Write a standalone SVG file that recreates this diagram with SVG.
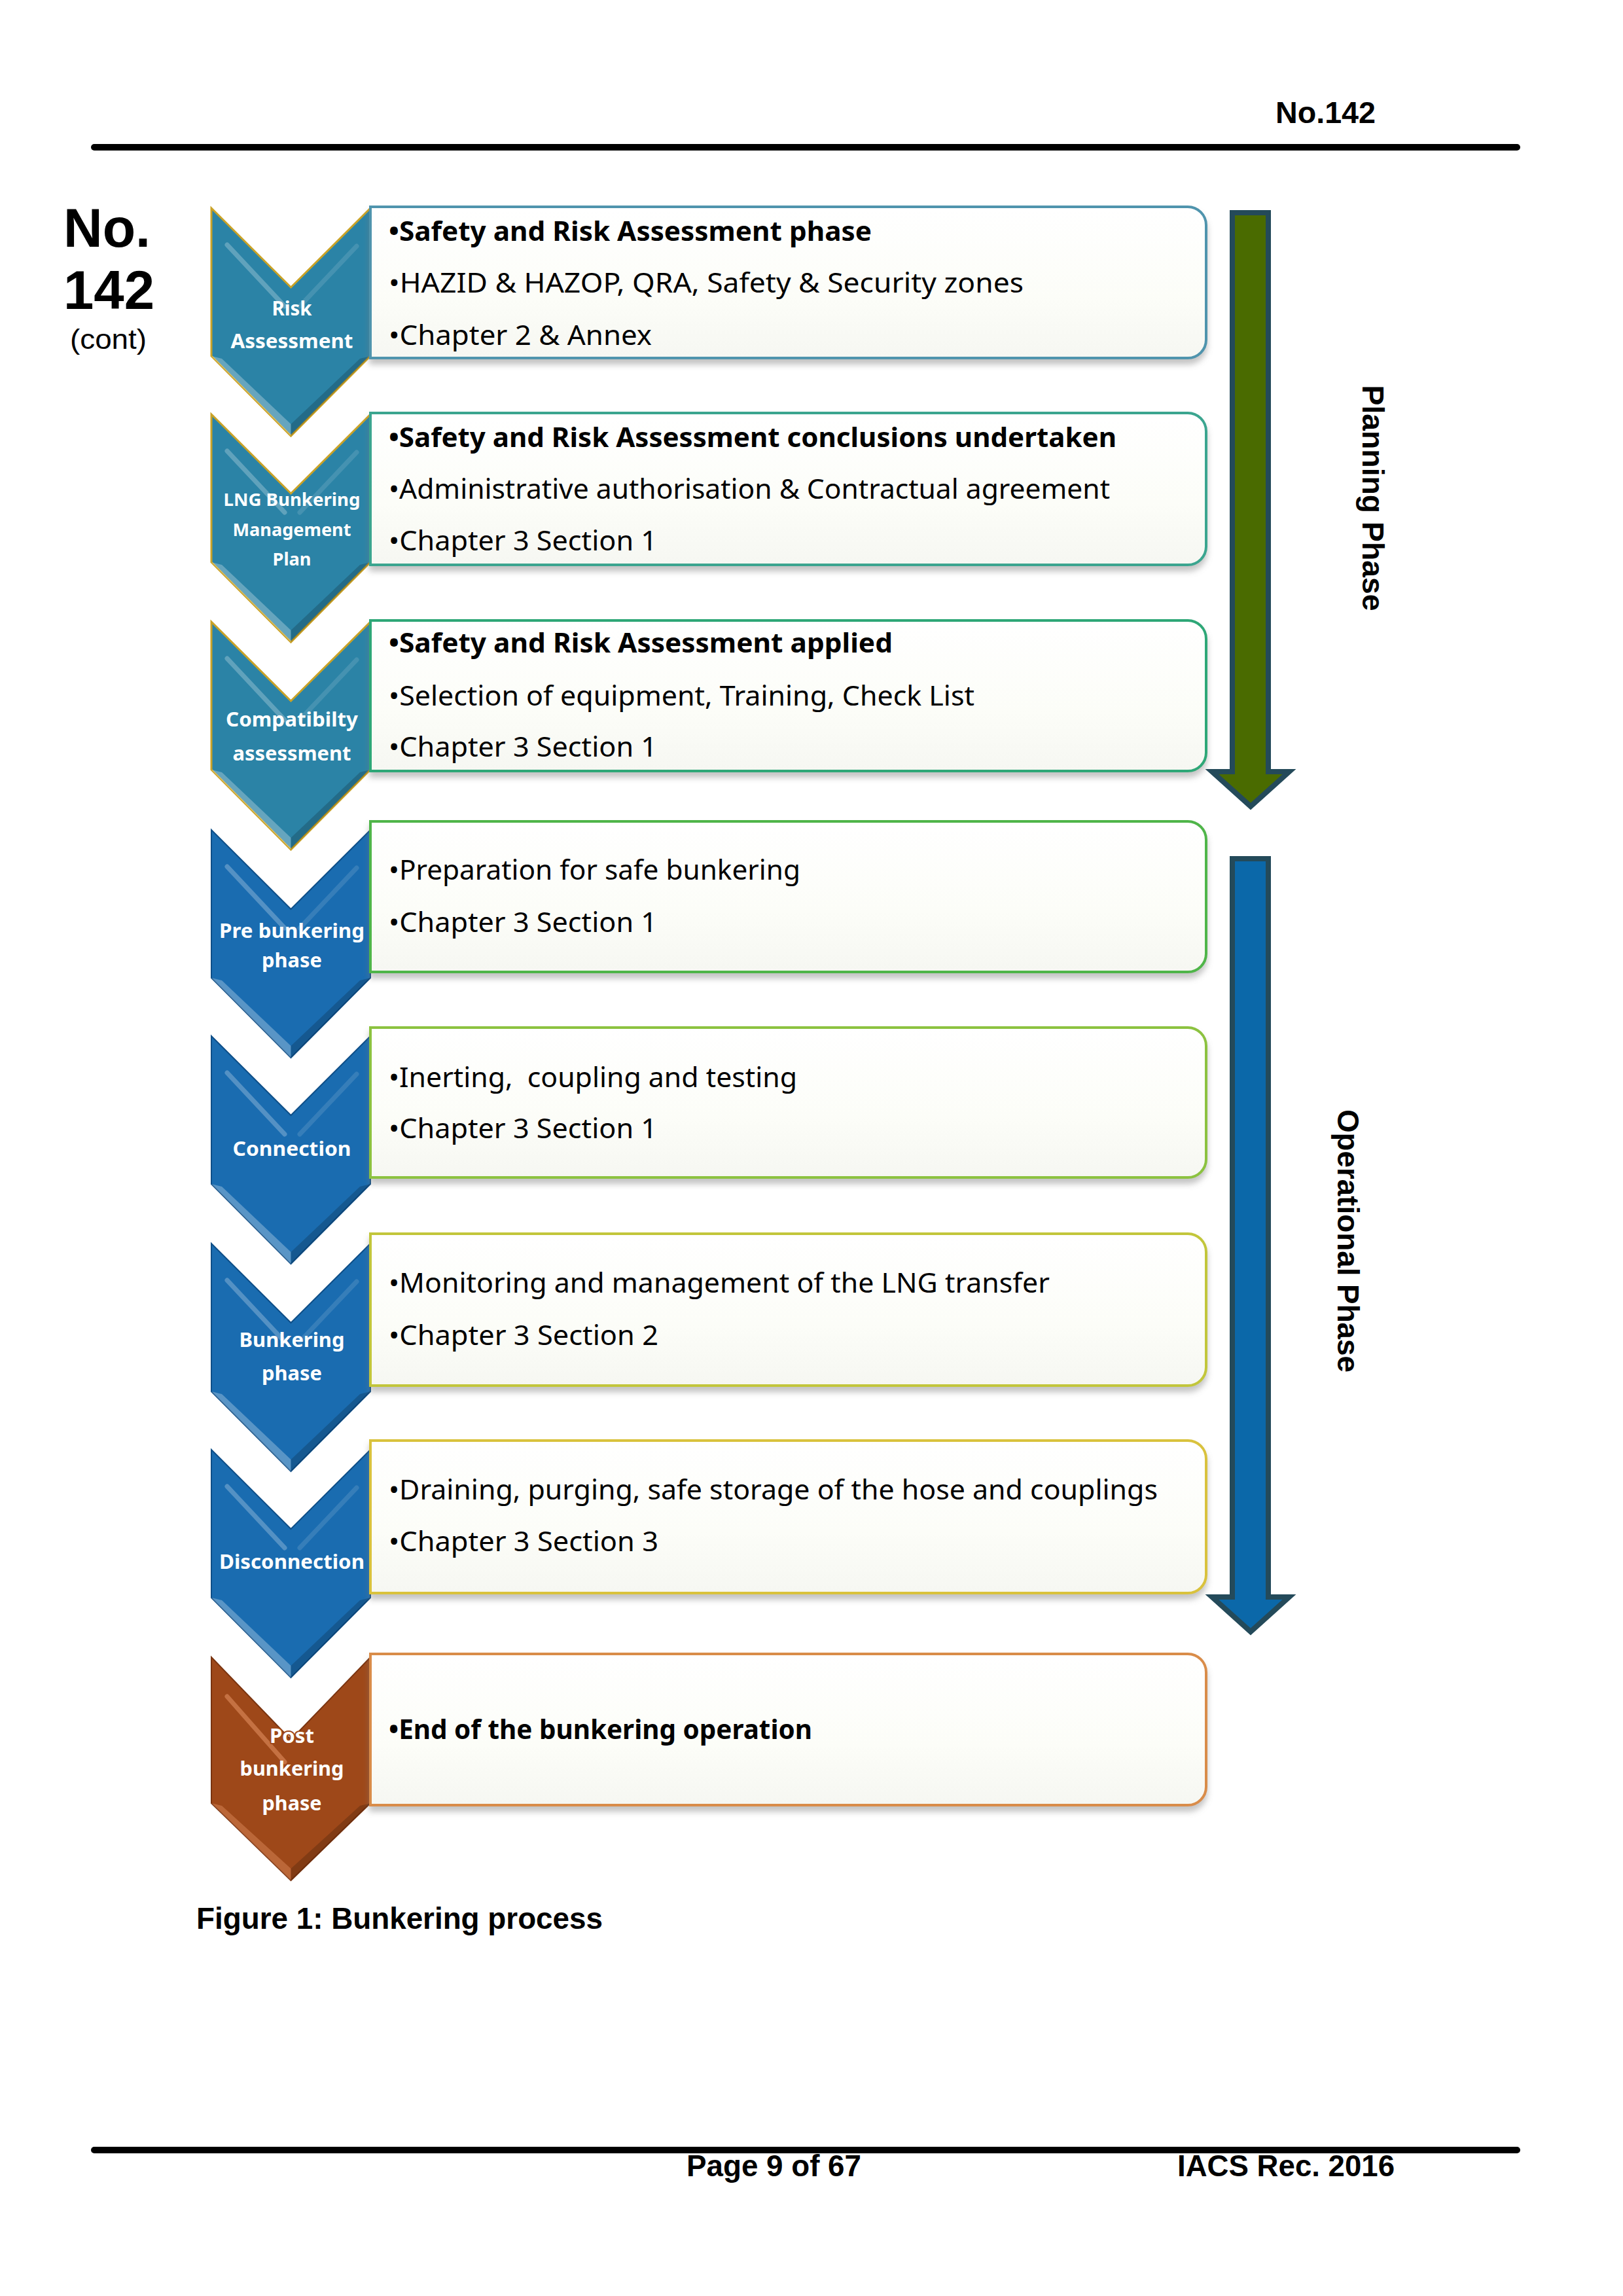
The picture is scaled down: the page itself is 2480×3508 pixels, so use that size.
<svg xmlns="http://www.w3.org/2000/svg" xmlns:xlink="http://www.w3.org/1999/xlink" width="2480" height="3508" viewBox="0 0 2480 3508">
<style>
.hdr{font-family:"Liberation Sans",Arial,sans-serif;font-weight:bold;fill:#000}
.reg{font-family:"Liberation Sans",Arial,sans-serif;fill:#000}
.bt{font-family:"Noto Sans","Open Sans",sans-serif;font-size:42px;fill:#000;white-space:pre}
.bb{font-weight:bold}
.cl{font-family:"Noto Sans","Open Sans",sans-serif;font-weight:bold;font-size:30px;fill:#fff;text-anchor:middle}
.cs{font-size:26px}
.teal{fill:#2b83a6;stroke:#c9a227;stroke-width:3}
.blue{fill:#1a6cb0;stroke:#0f4f88;stroke-width:2}
.brown{fill:#9e4819;stroke:#7a3410;stroke-width:2}
.box{fill:url(#boxg);stroke-width:4;filter:url(#sh)}
.hl{fill:#ffffff;opacity:0.28}
.dk{fill:#000000;opacity:0.18}
.st{stroke:#ffffff;stroke-width:7;opacity:0.25;stroke-linecap:round}
.arr{stroke:#244a5a;stroke-width:8;stroke-linejoin:miter}
.halo{stroke:#9e4819;stroke-width:4;paint-order:stroke;stroke-linejoin:round}
</style>
<defs>
<linearGradient id="boxg" x1="0" y1="0" x2="0" y2="1">
<stop offset="0" stop-color="#ffffff"/>
<stop offset="0.6" stop-color="#fcfdf8"/>
<stop offset="1" stop-color="#f6f7f2"/>
</linearGradient>
<filter id="sh" x="-5%" y="-10%" width="110%" height="130%">
<feDropShadow dx="0" dy="8" stdDeviation="5" flood-color="#7a7a7a" flood-opacity="0.45"/>
</filter>
<path id="chev" d="M0,0 L121.5,121 L243,0 L243,226 L121.5,348 L0,226 Z"/>
<path id="chev8" d="M0,0 L121.5,126 L243,0 L243,223 L121.5,341 L0,223 Z"/>
<g id="bev">
<path class="hl" d="M0,226 L121.5,348 L121.5,330 L16,230 Z"/>
<path class="dk" d="M243,226 L121.5,348 L121.5,330 L227,230 Z"/>
<line class="st" x1="24" y1="56" x2="112" y2="150"/>
<line class="st" x1="222" y1="58" x2="135" y2="150" style="opacity:0.12"/>
</g>
</defs>

<!-- header -->
<g id="header">
<text class="hdr" x="1949" y="188" font-size="46" textLength="153" lengthAdjust="spacingAndGlyphs">No.142</text>
<rect x="139" y="220" width="2184" height="10" rx="5" fill="#000"/>
</g>
<g id="doc-number">
<text class="hdr" x="97" y="377" font-size="84" textLength="133" lengthAdjust="spacingAndGlyphs">No.</text>
<text class="hdr" x="97" y="472" font-size="84" textLength="139" lengthAdjust="spacingAndGlyphs">142</text>
<text class="reg" x="107" y="533" font-size="43" textLength="117" lengthAdjust="spacingAndGlyphs">(cont)</text>
</g>

<!-- step 1 -->
<g id="node-1">
<use xlink:href="#chev" x="323" y="318" class="teal"/>
<use xlink:href="#bev" x="323" y="318"/>
<path class="box" stroke="#4f94ad" d="M566,316 H1815 A28,28 0 0 1 1843,344 V519 A28,28 0 0 1 1815,547 H566 Z"/>
<text class="cl" x="446" y="482" textLength="61" lengthAdjust="spacingAndGlyphs">Risk</text>
<text class="cl" x="446" y="532" textLength="187" lengthAdjust="spacingAndGlyphs">Assessment</text>
<text class="bt bb" x="594" y="368" textLength="738" lengthAdjust="spacingAndGlyphs">•Safety and Risk Assessment phase</text>
<text class="bt" x="594" y="447" textLength="970" lengthAdjust="spacingAndGlyphs">•HAZID &amp; HAZOP, QRA, Safety &amp; Security zones</text>
<text class="bt" x="594" y="527" textLength="402" lengthAdjust="spacingAndGlyphs">•Chapter 2 &amp; Annex</text>
</g>

<!-- step 2 -->
<g id="node-2">
<use xlink:href="#chev" x="323" y="633" class="teal"/>
<use xlink:href="#bev" x="323" y="633"/>
<path class="box" stroke="#3aa58f" d="M566,631 H1815 A28,28 0 0 1 1843,659 V835 A28,28 0 0 1 1815,863 H566 Z"/>
<text class="cl cs" x="446" y="773" textLength="209" lengthAdjust="spacingAndGlyphs">LNG Bunkering</text>
<text class="cl cs" x="446" y="819" textLength="181" lengthAdjust="spacingAndGlyphs">Management</text>
<text class="cl cs" x="446" y="864" textLength="59" lengthAdjust="spacingAndGlyphs">Plan</text>
<text class="bt bb" x="594" y="683" textLength="1112" lengthAdjust="spacingAndGlyphs">•Safety and Risk Assessment conclusions undertaken</text>
<text class="bt" x="594" y="762" textLength="1102" lengthAdjust="spacingAndGlyphs">•Administrative authorisation &amp; Contractual agreement</text>
<text class="bt" x="594" y="841" textLength="410" lengthAdjust="spacingAndGlyphs">•Chapter 3 Section 1</text>
</g>

<!-- step 3 -->
<g id="node-3">
<use xlink:href="#chev" x="323" y="950" class="teal"/>
<use xlink:href="#bev" x="323" y="950"/>
<path class="box" stroke="#2fa777" d="M566,948 H1815 A28,28 0 0 1 1843,976 V1150 A28,28 0 0 1 1815,1178 H566 Z"/>
<text class="cl" x="446" y="1110" textLength="202" lengthAdjust="spacingAndGlyphs">Compatibilty</text>
<text class="cl" x="446" y="1162" textLength="181" lengthAdjust="spacingAndGlyphs">assessment</text>
<text class="bt bb" x="594" y="997" textLength="770" lengthAdjust="spacingAndGlyphs">•Safety and Risk Assessment applied</text>
<text class="bt" x="594" y="1078" textLength="895" lengthAdjust="spacingAndGlyphs">•Selection of equipment, Training, Check List</text>
<text class="bt" x="594" y="1156" textLength="410" lengthAdjust="spacingAndGlyphs">•Chapter 3 Section 1</text>
</g>

<!-- step 4 -->
<g id="node-4">
<use xlink:href="#chev" x="323" y="1268" class="blue"/>
<use xlink:href="#bev" x="323" y="1268"/>
<path class="box" stroke="#4fb548" d="M566,1255 H1815 A28,28 0 0 1 1843,1283 V1457 A28,28 0 0 1 1815,1485 H566 Z"/>
<text class="cl" x="446" y="1433" textLength="222" lengthAdjust="spacingAndGlyphs">Pre bunkering</text>
<text class="cl" x="446" y="1478" textLength="92" lengthAdjust="spacingAndGlyphs">phase</text>
<text class="bt" x="594" y="1344" textLength="629" lengthAdjust="spacingAndGlyphs">•Preparation for safe bunkering</text>
<text class="bt" x="594" y="1424" textLength="410" lengthAdjust="spacingAndGlyphs">•Chapter 3 Section 1</text>
</g>

<!-- step 5 -->
<g id="node-5">
<use xlink:href="#chev" x="323" y="1583" class="blue"/>
<use xlink:href="#bev" x="323" y="1583"/>
<path class="box" stroke="#8cc23f" d="M566,1570 H1815 A28,28 0 0 1 1843,1598 V1771 A28,28 0 0 1 1815,1799 H566 Z"/>
<text class="cl" x="446" y="1766" textLength="181" lengthAdjust="spacingAndGlyphs">Connection</text>
<text class="bt" x="594" y="1661" textLength="624" lengthAdjust="spacingAndGlyphs">•Inerting,  coupling and testing</text>
<text class="bt" x="594" y="1739" textLength="410" lengthAdjust="spacingAndGlyphs">•Chapter 3 Section 1</text>
</g>

<!-- step 6 -->
<g id="node-6">
<use xlink:href="#chev" x="323" y="1900" class="blue"/>
<use xlink:href="#bev" x="323" y="1900"/>
<path class="box" stroke="#c2c63a" d="M566,1885 H1815 A28,28 0 0 1 1843,1913 V2089 A28,28 0 0 1 1815,2117 H566 Z"/>
<text class="cl" x="446" y="2058" textLength="161" lengthAdjust="spacingAndGlyphs">Bunkering</text>
<text class="cl" x="446" y="2109" textLength="92" lengthAdjust="spacingAndGlyphs">phase</text>
<text class="bt" x="594" y="1975" textLength="1010" lengthAdjust="spacingAndGlyphs">•Monitoring and management of the LNG transfer</text>
<text class="bt" x="594" y="2055" textLength="412" lengthAdjust="spacingAndGlyphs">•Chapter 3 Section 2</text>
</g>

<!-- step 7 -->
<g id="node-7">
<use xlink:href="#chev" x="323" y="2215" class="blue"/>
<use xlink:href="#bev" x="323" y="2215"/>
<path class="box" stroke="#d9c23d" d="M566,2201 H1815 A28,28 0 0 1 1843,2229 V2406 A28,28 0 0 1 1815,2434 H566 Z"/>
<text class="cl" x="446" y="2397" textLength="222" lengthAdjust="spacingAndGlyphs">Disconnection</text>
<text class="bt" x="594" y="2291" textLength="1175" lengthAdjust="spacingAndGlyphs">•Draining, purging, safe storage of the hose and couplings</text>
<text class="bt" x="594" y="2370" textLength="412" lengthAdjust="spacingAndGlyphs">•Chapter 3 Section 3</text>
</g>

<!-- step 8 -->
<g id="node-8">
<use xlink:href="#chev8" x="323" y="2532" class="brown"/>
<g transform="translate(323,2532)">
<path class="hl" d="M0,223 L121.5,341 L121.5,323 L16,227 Z" style="opacity:0.3;fill:#ffb080"/>
<path class="dk" d="M243,223 L121.5,341 L121.5,323 L227,227 Z"/>
<line class="st" x1="24" y1="60" x2="112" y2="160" style="stroke:#ffb080;opacity:0.4"/>
</g>
<path class="box" stroke="#d98c4a" d="M566,2527 H1815 A28,28 0 0 1 1843,2555 V2730 A28,28 0 0 1 1815,2758 H566 Z"/>
<text class="cl halo" x="446" y="2663" textLength="68" lengthAdjust="spacingAndGlyphs">Post</text>
<text class="cl" x="446" y="2713" textLength="159" lengthAdjust="spacingAndGlyphs">bunkering</text>
<text class="cl" x="446" y="2766" textLength="91" lengthAdjust="spacingAndGlyphs">phase</text>
<text class="bt bb" x="594" y="2657" textLength="647" lengthAdjust="spacingAndGlyphs">•End of the bunkering operation</text>
</g>

<!-- phase arrows -->
<g id="phase-arrows">
<g id="planning-phase">
<path class="arr" fill="#4a6b00" d="M1883,325 H1938 V1179 H1970 L1911,1232 L1852,1179 H1883 Z"/>
<text class="hdr" font-size="46" text-anchor="middle" textLength="345" lengthAdjust="spacingAndGlyphs" transform="translate(2082,761) rotate(90)">Planning Phase</text>
</g>
<g id="operational-phase">
<path class="arr" fill="#0b68a9" d="M1883,1312 H1938 V2440 H1970 L1911,2493 L1852,2440 H1883 Z"/>
<text class="hdr" font-size="46" text-anchor="middle" textLength="402" lengthAdjust="spacingAndGlyphs" transform="translate(2044,1896) rotate(90)">Operational Phase</text>
</g>
</g>

<!-- caption & footer -->
<g id="caption">
<text class="hdr" x="300" y="2947" font-size="46" textLength="621" lengthAdjust="spacingAndGlyphs">Figure 1: Bunkering process</text>
</g>
<g id="footer">
<rect x="139" y="3280" width="2184" height="10" rx="5" fill="#000"/>
<text class="hdr" x="1049" y="3325" font-size="46" textLength="267" lengthAdjust="spacingAndGlyphs">Page 9 of 67</text>
<text class="hdr" x="1799" y="3325" font-size="46" textLength="332" lengthAdjust="spacingAndGlyphs">IACS Rec. 2016</text>
</g>
</svg>
